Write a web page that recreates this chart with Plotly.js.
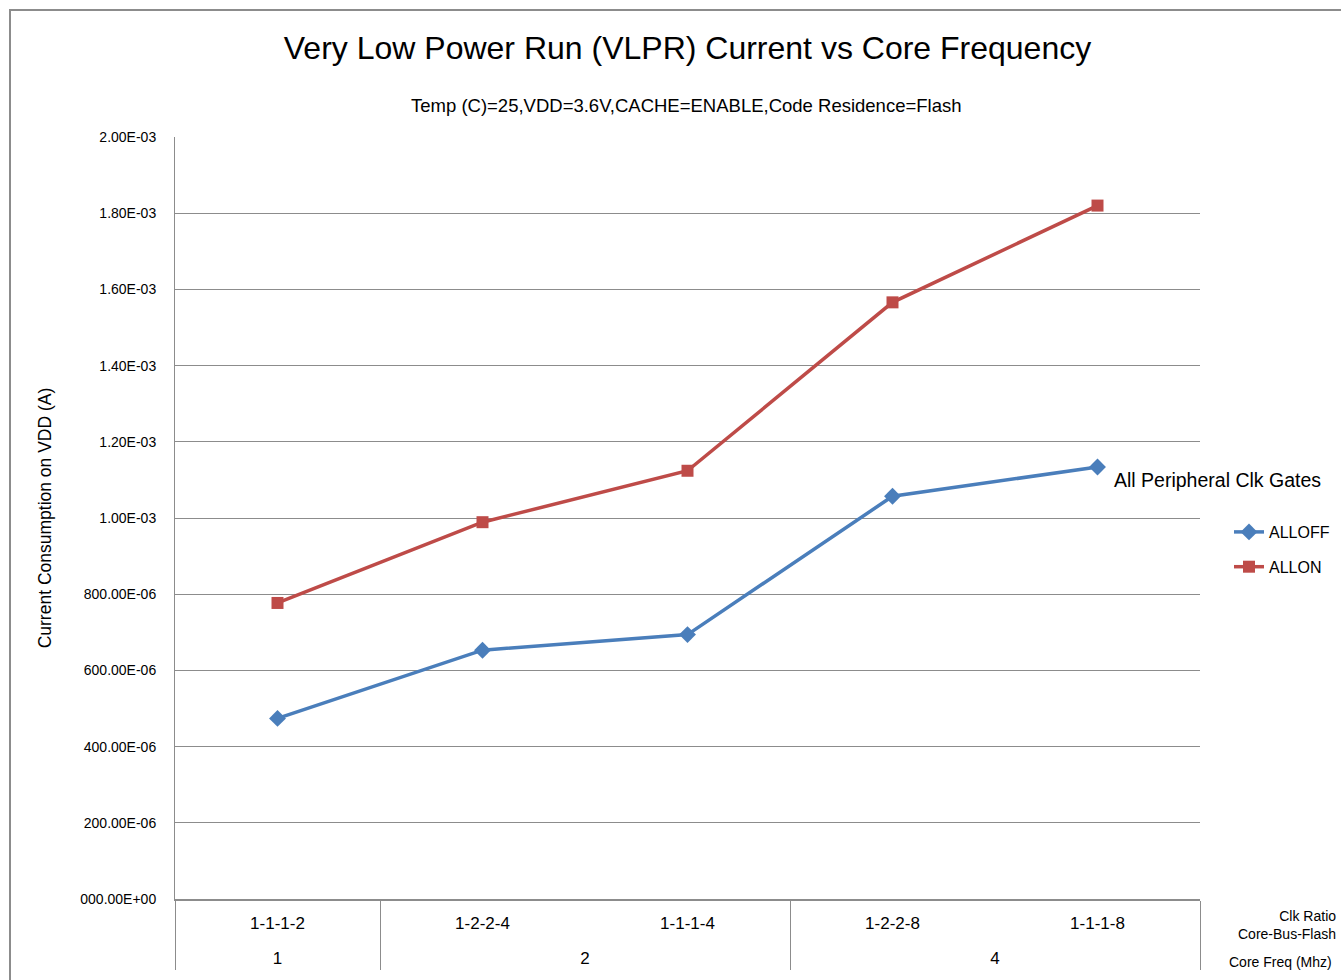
<!DOCTYPE html>
<html>
<head>
<meta charset="utf-8">
<script src="https://cdn.plot.ly/plotly-3.0.1.min.js"></script>
<style>
  html, body { margin: 0; padding: 0; background: #fff; overflow: hidden; }
  #chart { width: 1341px; height: 980px; }
</style>
</head>
<body>
<div id="chart"></div>
<script>
// ---- data ----
const coreFreq = ['1', '2', '2', '4', '4'];
const clkRatio = ['1-1-1-2', '1-2-2-4', '1-1-1-4', '1-2-2-8', '1-1-1-8'];
const allOff = [0.000474, 0.000653, 0.000694, 0.001057, 0.001134];
const allOn  = [0.000777, 0.000989, 0.001124, 0.001566, 0.001820];
const yTickVals = [0, 0.0002, 0.0004, 0.0006, 0.0008, 0.0010, 0.0012, 0.0014, 0.0016, 0.0018, 0.0020];
const yTickText = ['000.00E+00', '200.00E-06', '400.00E-06', '600.00E-06', '800.00E-06',
                   '1.00E-03', '1.20E-03', '1.40E-03', '1.60E-03', '1.80E-03', '2.00E-03'];
const seriesNames = ['ALLOFF', 'ALLON'];
const dataLabel = 'All Peripheral Clk Gates';

const FONT = 'Liberation Sans, Arial, sans-serif';
const PW = 1025; // plot width in px
const PH = 762;  // plot height in px

// first-level labels get an extra blank line so the second level sits lower
const ratioLabels = clkRatio.map(s => s + '<br>&nbsp;');

const traces = [
  {
    x: [coreFreq, ratioLabels], y: allOff, name: seriesNames[0],
    type: 'scatter', mode: 'lines+markers',
    line: { color: '#4a7ebb', width: 3.5 },
    marker: { symbol: 'diamond', size: 13, color: '#4a7ebb' },
    legendgroup: 'a'
  },
  {
    x: [coreFreq, ratioLabels], y: allOn, name: seriesNames[1],
    type: 'scatter', mode: 'lines+markers',
    line: { color: '#be4b48', width: 3.5 },
    marker: { symbol: 'square', size: 12, color: '#be4b48' },
    legendgroup: 'b'
  }
];

const layout = {
  width: 1341, height: 980,
  margin: { l: 175, r: 141, t: 137, b: 81 },
  paper_bgcolor: '#ffffff', plot_bgcolor: '#ffffff',
  font: { family: FONT, color: '#000', size: 15 },
  title: {
    text: 'Very Low Power Run (VLPR) Current vs Core Frequency',
    font: { family: FONT, size: 32, color: '#000' },
    x: 0.5, xanchor: 'center', xref: 'paper',
    y: 1 - 48 / 980, yref: 'container', yanchor: 'middle'
  },
  showlegend: true,
  legend: {
    xref: 'container', yref: 'container',
    x: 1229 / 1341, xanchor: 'left',
    y: 1 - 515 / 980, yanchor: 'top',
    font: { family: FONT, size: 16, color: '#000' },
    traceorder: 'grouped', tracegroupgap: 11,
    bgcolor: 'rgba(0,0,0,0)', borderwidth: 0
  },
  xaxis: {
    type: 'multicategory',
    range: [-0.5, 4.5],
    showgrid: false,
    showline: true, linecolor: '#8c8c8c', linewidth: 2,
    ticks: '', ticklabelstandoff: 8,
    showdividers: true, dividercolor: '#8c8c8c', dividerwidth: 1,
    tickfont: { family: FONT, size: 17, color: '#000' },
    zeroline: false
  },
  yaxis: {
    range: [0, 0.002],
    tickmode: 'array', tickvals: yTickVals, ticktext: yTickText,
    showgrid: true, gridcolor: '#8c8c8c', gridwidth: 1,
    showline: true, linecolor: '#8c8c8c', linewidth: 1,
    ticks: '', ticklabelstandoff: 15,
    tickfont: { family: FONT, size: 14, color: '#000' },
    zeroline: false,
    title: {
      text: 'Current Consumption on VDD (A)',
      font: { family: FONT, size: 17.5, color: '#000' },
      standoff: 24
    }
  },
  annotations: [
    {
      text: 'Temp (C)=25,VDD=3.6V,CACHE=ENABLE,Code Residence=Flash',
      xref: 'paper', yref: 'paper', x: (686 - 175) / PW, y: (899 - 106) / PH,
      xanchor: 'center', yanchor: 'middle', showarrow: false,
      font: { family: FONT, size: 18.5, color: '#000' }
    },
    {
      text: dataLabel,
      xref: 'x', yref: 'y', x: 4, y: allOff[4],
      xanchor: 'left', yanchor: 'middle', xshift: 14, yshift: -13, showarrow: false,
      font: { family: FONT, size: 19.5, color: '#000' }
    },
    {
      text: 'Clk Ratio<br>Core-Bus-Flash',
      xref: 'paper', yref: 'paper', x: (1338 - 175) / PW, y: (899 - 925) / PH,
      xanchor: 'right', yanchor: 'middle', align: 'right', showarrow: false,
      font: { family: FONT, size: 14, color: '#000' }
    },
    {
      text: 'Core Freq (Mhz)',
      xref: 'paper', yref: 'paper', x: (1334 - 175) / PW, y: (899 - 962) / PH,
      xanchor: 'right', yanchor: 'middle', showarrow: false,
      font: { family: FONT, size: 14, color: '#000' }
    }
  ],
  shapes: [
    {
      type: 'rect', xref: 'paper', yref: 'paper', layer: 'below',
      x0: (10 - 175) / PW, x1: (1360 - 175) / PW,
      y0: (899 - 1000) / PH, y1: (899 - 10) / PH,
      line: { color: '#8c8c8c', width: 2 }, fillcolor: 'rgba(0,0,0,0)'
    }
  ]
};

Plotly.newPlot('chart', traces, layout, { displayModeBar: false, staticPlot: true });
</script>
</body>
</html>
